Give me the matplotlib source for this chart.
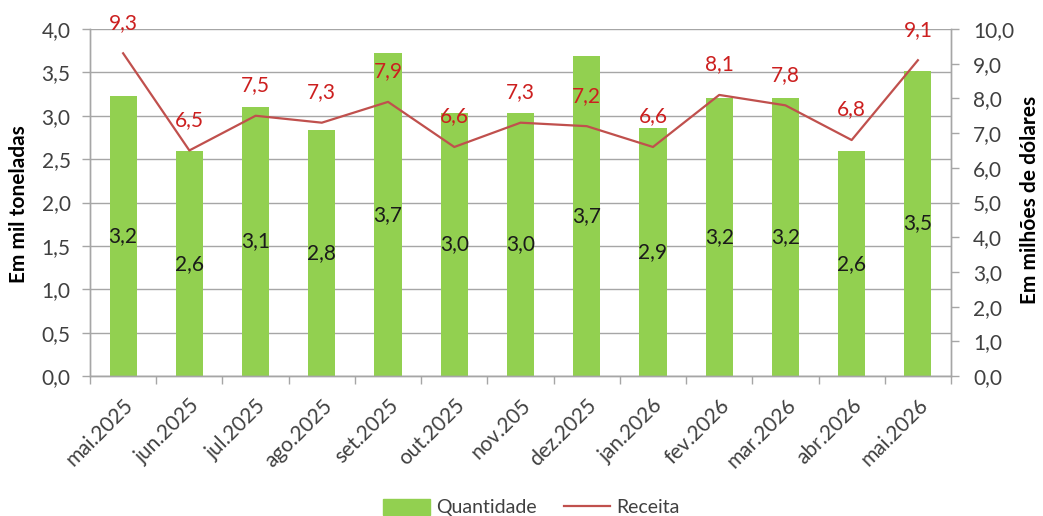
import matplotlib
matplotlib.use("Agg")
import matplotlib.pyplot as plt
import numpy as np

months = ["mai.2025", "jun.2025", "jul.2025", "ago.2025", "set.2025", "out.2025",
          "nov.205", "dez.2025", "jan.2026", "fev.2026", "mar.2026", "abr.2026", "mai.2026"]
quantidade = [3.23, 2.59, 3.10, 2.83, 3.72, 3.03, 3.03, 3.69, 2.86, 3.21, 3.20, 2.59, 3.52]
receita = [9.3, 6.5, 7.5, 7.3, 7.9, 6.6, 7.3, 7.2, 6.6, 8.1, 7.8, 6.8, 9.1]
left_ticks = [0.0, 0.5, 1.0, 1.5, 2.0, 2.5, 3.0, 3.5, 4.0]
right_ticks = [0, 1, 2, 3, 4, 5, 6, 7, 8, 9, 10]

plt.rcParams["font.family"] = ["Lato", "DejaVu Sans"]

def br(v):
    return f"{v:.1f}".replace(".", ",")

FS = 15.0

fig = plt.figure(figsize=(10.43, 5.16), dpi=100)
ax = fig.add_axes([0.0863, 0.2713, 0.8255, 0.6725])
ax2 = ax.twinx()

x = np.arange(len(months))
bar_color = "#92D050"
line_color = "#C0504D"
label_red = "#CC1F1F"
tick_color = "#404040"
grid_color = "#A6A6A6"

ax.bar(x, quantidade, width=0.41, color=bar_color, zorder=2)
ax.set_xlim(-0.5, len(months) - 0.5)
ax.set_ylim(0, 4.0)
ax.set_yticks(left_ticks)
ax.set_yticklabels([br(v) for v in left_ticks])
ax.yaxis.grid(True, color=grid_color, linewidth=1.0, zorder=0)
ax.set_axisbelow(True)

for xi, v in zip(x, quantidade):
    ax.text(xi, v / 2, br(v), ha="center", va="center", fontsize=FS,
            color="#1a1a1a", zorder=4)

ax2.plot(x, receita, color=line_color, linewidth=1.6, zorder=3)
ax2.set_ylim(0, 10)
ax2.set_yticks(right_ticks)
ax2.set_yticklabels([br(float(v)) for v in right_ticks])
for xi, v in zip(x, receita):
    ax2.annotate(br(v), (xi, v), xytext=(0, 22), textcoords="offset points",
                 ha="center", va="center", fontsize=FS, color=label_red,
                 annotation_clip=False)

# category-boundary tick marks on the x axis
ax.set_xticks(x)
ax.set_xticklabels(months, rotation=45, ha="right", rotation_mode="anchor",
                   fontsize=FS, color=tick_color)
ax.tick_params(axis="x", which="major", length=0, pad=14)
ax.set_xticks(np.arange(-0.5, len(months), 1.0), minor=True)
ax.tick_params(axis="x", which="minor", length=6, width=1, color=grid_color,
               direction="out")

ax.tick_params(axis="y", labelsize=FS, labelcolor=tick_color, length=6,
               width=1, color=grid_color, direction="out", pad=8)
ax2.tick_params(axis="y", labelsize=FS, labelcolor=tick_color, length=6,
                width=1, color=grid_color, direction="out", pad=10)

for a in (ax, ax2):
    a.spines["top"].set_visible(False)
    for s in ("left", "right", "bottom"):
        a.spines[s].set_color(grid_color)
        a.spines[s].set_linewidth(1.0)

# axis titles placed in figure coordinates
fig.text(19 / 1043, 1 - 204 / 516, "Em mil toneladas", rotation=90,
         ha="center", va="center", fontsize=15, fontweight="bold", color="black")
fig.text(1030 / 1043, 1 - 200 / 516, "Em milhões de dólares", rotation=90,
         ha="center", va="center", fontsize=15, fontweight="bold", color="black")

handles = [
    plt.Rectangle((0, 0), 1, 1, color=bar_color),
    plt.Line2D([0], [0], color=line_color, linewidth=1.6),
]
fig.legend(handles, ["Quantidade", "Receita"], loc="center",
           bbox_to_anchor=(0.5096, 0.016), ncol=2, frameon=False, fontsize=14,
           handlelength=2.4, handleheight=0.85, columnspacing=1.4,
           handletextpad=0.3, labelcolor=tick_color, borderpad=0.2)

fig.savefig("out.png", dpi=100)
